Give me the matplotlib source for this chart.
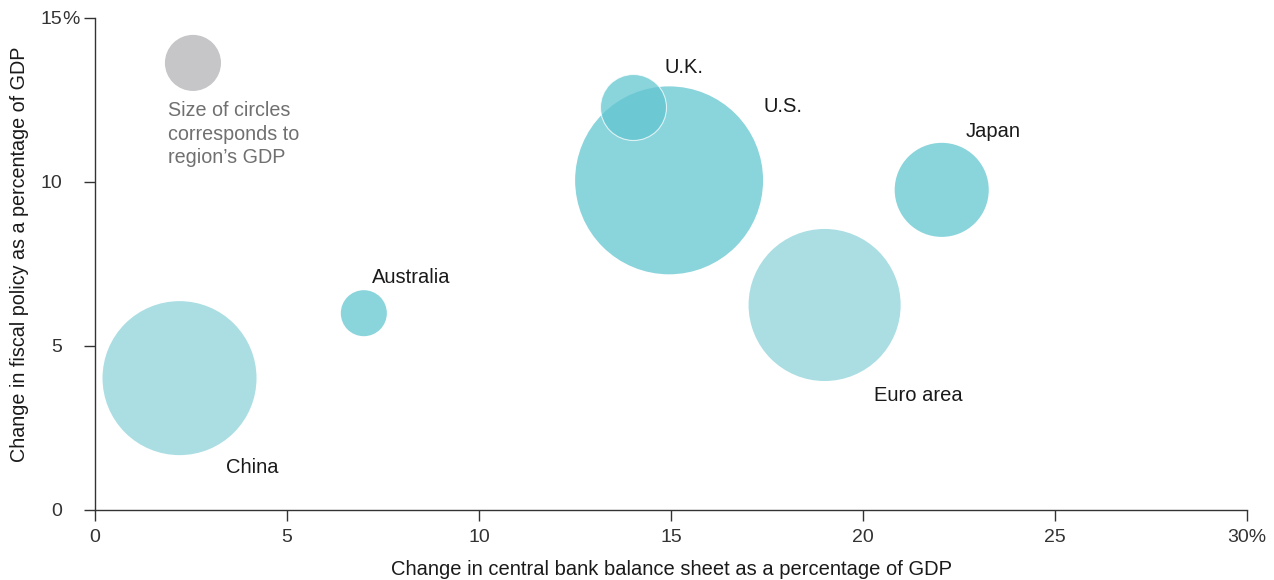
import matplotlib
matplotlib.use("Agg")
import matplotlib.pyplot as plt
from matplotlib.ticker import FixedLocator, FixedFormatter

plt.rcParams['font.family'] = ['Liberation Sans', 'DejaVu Sans']

# Data
regions = ["China", "Australia", "Euro area", "Japan", "U.S.", "U.K."]
bank_change = [2.2, 7.0, 19.0, 22.05, 14.95, 14.0]    # x, % of GDP
fiscal_change = [4.02, 6.0, 6.25, 9.76, 10.05, 12.3]  # y, % of GDP
gdp = [14.1, 1.26, 13.75, 5.26, 21.0, 2.59]            # circle size (trillions)
legend_gdp = 1.87
legend_x, legend_y = 2.55, 13.63

x_ticks = [0, 5, 10, 15, 20, 25, 30]
x_ticklabels = ["0", "5", "10", "15", "20", "25", "30%"]
y_ticks = [0, 5, 10, 15]
y_ticklabels = ["0", "5", "10", "15"]
y_unit = "%"

# Styles
colors = ["#aadee3", "#8ad4dc", "#aadee3", "#8ad4dc", "#8ad4dc", "#63c6d0"]
alphas = [1, 1, 1, 1, 1, 0.75]
edges = ["none", "none", "none", "none", "none", "white"]
label_pos = {"China": (3.41, 1.31), "Australia": (7.21, 7.10),
             "Euro area": (20.29, 3.48), "Japan": (22.68, 11.55),
             "U.S.": (17.40, 12.29), "U.K.": (14.84, 13.48)}
size_k = 872.0

fig = plt.figure(figsize=(12.74, 5.8), dpi=100)
ax = fig.add_axes([0.0746, 0.1207, 0.9042, 0.8483])

for i, r in enumerate(regions):
    ax.scatter(bank_change[i], fiscal_change[i], s=gdp[i] * size_k,
               color=colors[i], alpha=alphas[i], edgecolors=edges[i],
               linewidths=0.8, zorder=2 + i, clip_on=False)
    lx, ly = label_pos[r]
    ax.text(lx, ly, r, fontsize=14.5, color="#1a1a1a", ha="left", va="center", zorder=20)

ax.scatter(legend_x, legend_y, s=legend_gdp * size_k, color="#c6c6c8",
           edgecolors="none", zorder=2, clip_on=False)
ax.text(1.90, 11.46, "Size of circles\ncorresponds to\nregion\u2019s GDP", fontsize=14.2,
        color="#707070", ha="left", va="center", linespacing=1.3)

ax.set_xlim(0, 30)
ax.set_ylim(0, 15)
ax.xaxis.set_major_locator(FixedLocator(x_ticks))
ax.xaxis.set_major_formatter(FixedFormatter(x_ticklabels))
ax.yaxis.set_major_locator(FixedLocator(y_ticks))
ax.yaxis.set_major_formatter(FixedFormatter(y_ticklabels))

for s in ["top", "right"]:
    ax.spines[s].set_visible(False)
for s in ["left", "bottom"]:
    ax.spines[s].set_color("#333333")
    ax.spines[s].set_linewidth(1.0)
ax.tick_params(axis="both", direction="out", length=8, width=1.0, color="#333333",
               labelsize=14, labelcolor="#333333")
ax.tick_params(axis="y", pad=15.5)
ax.tick_params(axis="x", pad=6)

# percent sign hanging after the top y tick label
ax.annotate(y_unit, xy=(0, y_ticks[-1]), xycoords="data",
            xytext=(-8 - 15.5, 0), textcoords="offset points",
            ha="left", va="center_baseline", fontsize=14, color="#333333",
            annotation_clip=False)

ax.set_xlabel("Change in central bank balance sheet as a percentage of GDP",
              fontsize=14.5, color="#1a1a1a", labelpad=10)
ax.set_ylabel("Change in fiscal policy as a percentage of GDP",
              fontsize=14.2, color="#1a1a1a")
ax.yaxis.set_label_coords(-0.0655, 0.52)
ax.yaxis.label.set_va("center")

fig.savefig("out.png", dpi=100)
